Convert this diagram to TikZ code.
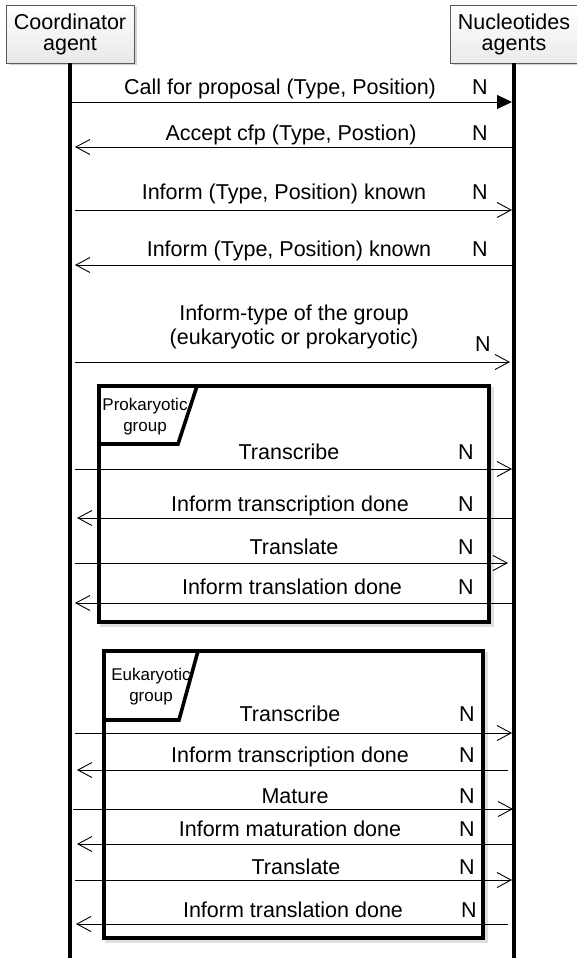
\documentclass[tikz,border=0pt]{standalone}
\usepackage{fontspec}
\setmainfont{Liberation Sans}
\usetikzlibrary{arrows.meta,shadows}

\begin{document}
\begin{tikzpicture}[x=1pt,y=-1pt,
  lbl/.style={font=\fontsize{21.5}{24}\selectfont, inner sep=0pt, text height=15.5pt, text depth=1pt},
  tablbl/.style={font=\fontsize{17}{21}\selectfont, inner sep=0pt, align=center},
  headbox/.style={draw=gray!70!black, line width=0.8pt, top color=white, bottom color=#1,
    minimum width=128pt, minimum height=58pt, align=center, inner sep=0pt,
    font=\fontsize{21.5}{21}\selectfont,
    drop shadow={shadow xshift=2.5pt, shadow yshift=-2.5pt, opacity=0.35}},
  life/.style={line width=3.6pt},
  msg/.style={line width=1pt, -{Straight Barb[length=14pt,width=15pt,line width=0.9pt]}},
  msgfill/.style={line width=1pt, -{Triangle[length=15pt,width=14pt]}},
  frame/.style={line width=3.6pt},
  fshadow/.style={line width=4pt, draw=black!12},
]
\useasboundingbox (0,0) rectangle (576,958);
\fill[white] (0,0) rectangle (576,958);

% participants
\node[headbox=gray!18] (coord) at (70,34) {Coordinator\\agent};
\node[headbox=blue!5!gray!15] (nuc) at (514,34) {Nucleotides\\agents};

% lifelines
\coordinate (coordEnd) at (70,958);
\coordinate (nucEnd) at (514,958);
\draw[life] (coord.south) -- (coordEnd);
\draw[life] (nuc.south) -- (nucEnd);

% combined fragments
\draw[fshadow] (102,389) rectangle (492,625);
\draw[frame, fill=white] (99,386) rectangle (489,622);
\draw[frame] (99,386) -- (197,386) -- (178,444) -- (99,444);
\node[tablbl] (prokTab) at (145,417) {Prokaryotic\\group};

\draw[fshadow] (107,654) rectangle (486,941);
\draw[frame, fill=white] (104,651) rectangle (483,938);
\draw[frame] (104,651) -- (198,651) -- (179,720) -- (104,720);
\node[tablbl] (eukTab) at (151,687) {Eukaryotic\\group};

% messages before the fragments
\coordinate (a1) at (72,102);  \coordinate (b1) at (512,102);
\draw[msgfill] (a1) -- (b1);
\node[lbl] (t1) at (280,87) {Call for proposal (Type, Position)};
\node[lbl] (n1) at (480,87) {N};

\coordinate (a2) at (75,147);  \coordinate (b2) at (512,147);
\draw[msg] (b2) -- (a2);
\node[lbl] (t2) at (291,133) {Accept cfp (Type, Postion)};
\node[lbl] (n2) at (480,133) {N};

\coordinate (a3) at (75,210);  \coordinate (b3) at (512,210);
\draw[msg] (a3) -- (b3);
\node[lbl] (t3) at (284,192) {Inform (Type, Position) known};
\node[lbl] (n3) at (480,192) {N};

\coordinate (a4) at (75,265);  \coordinate (b4) at (512,265);
\draw[msg] (b4) -- (a4);
\node[lbl] (t4) at (289,249) {Inform (Type, Position) known};
\node[lbl] (n4) at (480,249) {N};

\coordinate (a5) at (75,362);  \coordinate (b5) at (510,362);
\draw[msg] (a5) -- (b5);
\node[lbl, align=center, text height=, text depth=] (t5) at (294,327) {Inform-type of the group\\(eukaryotic or prokaryotic)};
\node[lbl] (n5) at (483,344) {N};

% prokaryotic group
\coordinate (a6) at (75,469);  \coordinate (b6) at (512,469);
\draw[msg] (a6) -- (b6);
\node[lbl] (t6) at (289,452) {Transcribe};
\node[lbl] (n6) at (466,452) {N};

\coordinate (a7) at (77,518);  \coordinate (b7) at (512,518);
\draw[msg] (b7) -- (a7);
\node[lbl] (t7) at (290,504) {Inform transcription done};
\node[lbl] (n7) at (466,504) {N};

\coordinate (a8) at (75,563);  \coordinate (b8) at (508,563);
\draw[msg] (a8) -- (b8);
\node[lbl] (t8) at (294,547) {Translate};
\node[lbl] (n8) at (466,547) {N};

\coordinate (a9) at (75,603);  \coordinate (b9) at (512,603);
\draw[msg] (b9) -- (a9);
\node[lbl] (t9) at (292,587) {Inform translation done};
\node[lbl] (n9) at (466,587) {N};

% eukaryotic group
\coordinate (a10) at (75,733);  \coordinate (b10) at (512,733);
\draw[msg] (a10) -- (b10);
\node[lbl] (t10) at (290,714) {Transcribe};
\node[lbl] (n10) at (467,714) {N};

\coordinate (a11) at (77,770);  \coordinate (b11) at (508,770);
\draw[msg] (b11) -- (a11);
\node[lbl] (t11) at (290,755) {Inform transcription done};
\node[lbl] (n11) at (467,755) {N};

\coordinate (a12) at (73,809);  \coordinate (b12) at (513,809);
\draw[msg] (a12) -- (b12);
\node[lbl] (t12) at (295,796) {Mature};
\node[lbl] (n12) at (467,796) {N};

\coordinate (a13) at (77,844);  \coordinate (b13) at (512,844);
\draw[msg] (b13) -- (a13);
\node[lbl] (t13) at (290,829) {Inform maturation done};
\node[lbl] (n13) at (467,829) {N};

\coordinate (a14) at (75,880);  \coordinate (b14) at (512,880);
\draw[msg] (a14) -- (b14);
\node[lbl] (t14) at (296,867) {Translate};
\node[lbl] (n14) at (467,867) {N};

\coordinate (a15) at (76,924);  \coordinate (b15) at (508,924);
\draw[msg] (b15) -- (a15);
\node[lbl] (t15) at (293,910) {Inform translation done};
\node[lbl] (n15) at (469,910) {N};
\end{tikzpicture}
\end{document}
